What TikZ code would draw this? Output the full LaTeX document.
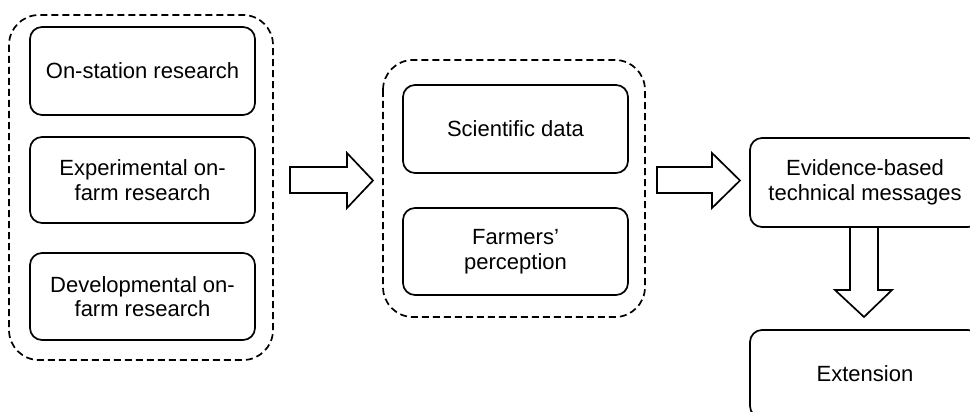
\documentclass[tikz,border=0pt]{standalone}
\usepackage{fontspec}
\setmainfont{Liberation Sans}
\begin{document}
\begin{tikzpicture}[x=1pt,y=-1pt,
  box/.style={draw, line width=1.7pt, rounded corners=12pt, align=center,
    font=\fontsize{22}{24.5}\selectfont, inner sep=0pt},
  group/.style={draw, line width=1.7pt, dash pattern=on 7pt off 4pt, rounded corners=30pt},
  blockarrow/.style={draw, line width=1.7pt, fill=white, line join=miter}]
\useasboundingbox (0,0) rectangle (970,412);
\clip (0,0) rectangle (970,412);

% left group: research types
\draw[group] (9,15) rectangle (273,360);
\node[box, minimum width=225pt, minimum height=88pt] (onst) at (142.5,71) {On-station research};
\node[box, minimum width=225pt, minimum height=86pt] (expe) at (142.5,180) {Experimental on-\\farm research};
\node[box, minimum width=225pt, minimum height=87pt] (deve) at (142.5,296.5) {Developmental on-\\farm research};

% middle group: outputs
\draw[group] (383,60) rectangle (645,317);
\node[box, minimum width=225pt, minimum height=88pt] (sci) at (515.5,129) {Scientific data};
\node[box, minimum width=225pt, minimum height=87pt] (farm) at (515.5,251.5) {Farmers'\\perception};

% right column
\node[box, minimum width=230pt, minimum height=89pt] (evid) at (865,182.5) {Evidence-based\\technical messages};
\node[box, minimum width=230pt, minimum height=88pt] (ext) at (865,374) {Extension};

% block arrows
\draw[blockarrow] (290,167) -- (347,167) -- (347,153) -- (373,180.5) -- (347,208) -- (347,193) -- (290,193) -- cycle;
\draw[blockarrow] (657,167) -- (712,167) -- (712,153) -- (740,180.5) -- (712,208) -- (712,193) -- (657,193) -- cycle;
\draw[blockarrow] (850,227) -- (850,290) -- (835,290) -- (864,317) -- (892,290) -- (878,290) -- (878,227) -- cycle;
\end{tikzpicture}
\end{document}
